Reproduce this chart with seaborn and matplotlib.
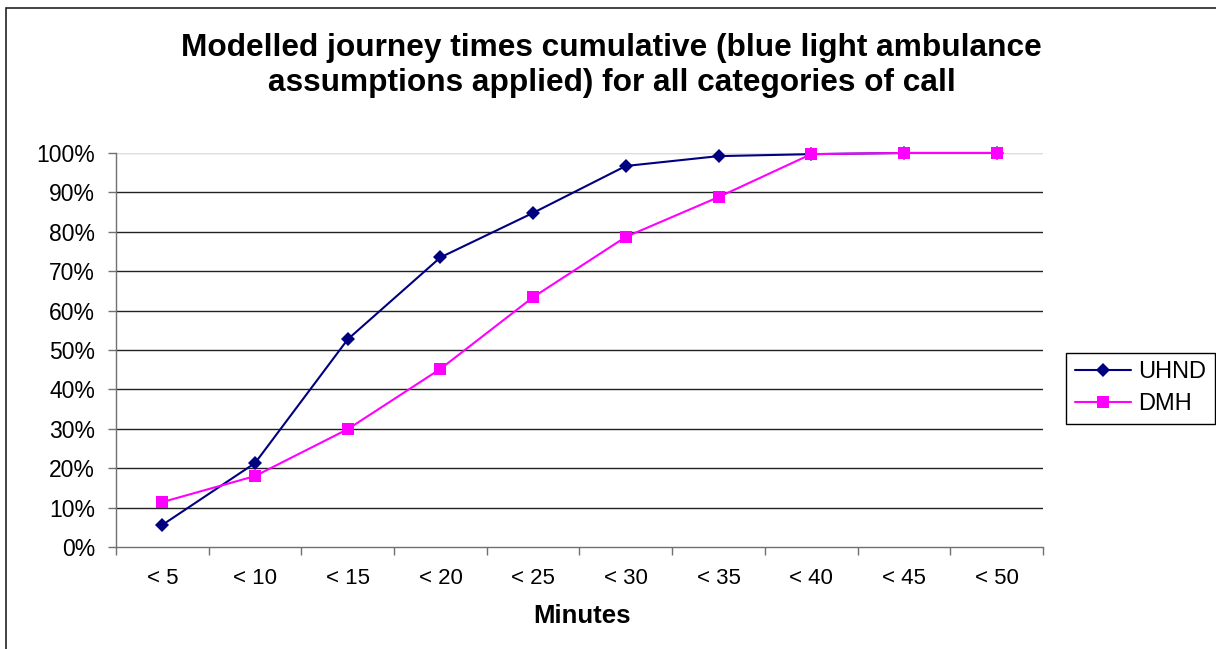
import matplotlib.pyplot as plt
import matplotlib.ticker as mtick
from matplotlib.patches import Rectangle
import seaborn as sns
import pandas as pd

# values (share of calls reached)
categories = ["< 5", "< 10", "< 15", "< 20", "< 25", "< 30", "< 35", "< 40", "< 45", "< 50"]
uhnd = [0.056, 0.213, 0.527, 0.735, 0.848, 0.967, 0.992, 0.997, 1.0, 1.0]
dmh = [0.114, 0.180, 0.299, 0.452, 0.634, 0.787, 0.888, 0.997, 1.0, 1.0]
series_names = ["UHND", "DMH"]

sns.set_theme(style="white")
plt.rcParams['font.family'] = ['Liberation Sans', 'DejaVu Sans']
plt.rcParams['text.color'] = 'black'

df = pd.DataFrame({
    "Minutes": categories * 2,
    "share": uhnd + dmh,
    "series": [series_names[0]] * len(uhnd) + [series_names[1]] * len(dmh),
})

fig = plt.figure(figsize=(12.16, 6.49), dpi=100)
ax = fig.add_axes([0.0954, 0.1572, 0.7623, 0.6071])

sns.lineplot(data=df, x="Minutes", y="share", hue="series", style="series",
             markers={"UHND": "D", "DMH": "s"}, dashes=False,
             palette={"UHND": "#000080", "DMH": "#FF00FF"},
             linewidth=1.5, markeredgewidth=0, sort=False, ax=ax)
for line, ms in zip(ax.lines, [7, 8.5]):
    line.set_markersize(ms)
    line.set_clip_on(False)
    line.set_zorder(3)

ax.set_xlim(-0.5, len(categories) - 0.5)
ax.set_ylim(0, 1)
ax.yaxis.set_major_locator(mtick.MultipleLocator(0.1))
ax.yaxis.set_major_formatter(mtick.PercentFormatter(1.0, decimals=0))
ax.set_xticks(range(len(categories)))
ax.set_xticklabels(categories)
ax.set_xticks([i - 0.5 for i in range(len(categories) + 1)], minor=True)
ax.set_xlabel("")
ax.set_ylabel("")

# horizontal gridlines, the 100% one drawn light as in the original
for yv in ax.get_yticks():
    if 0 < yv < 0.999:
        ax.axhline(yv, color="#222222", linewidth=1, zorder=1)
    elif yv >= 0.999:
        ax.axhline(1.0, color="#dddddd", linewidth=1, zorder=1)

for side in ["top", "right"]:
    ax.spines[side].set_visible(False)
for side in ["left", "bottom"]:
    ax.spines[side].set_color("#707070")
    ax.spines[side].set_linewidth(1)

ax.tick_params(axis="y", which="major", direction="out", length=6, width=1,
               color="#707070", left=True, labelsize=16.5, pad=9, labelcolor="black")
ax.tick_params(axis="x", which="major", length=0, labelsize=16, pad=15, labelcolor="black")
ax.tick_params(axis="x", which="minor", direction="out", length=6, width=1,
               color="#707070", bottom=True)

# legend on the right, outside the plot
leg = ax.get_legend()
handles = leg.legend_handles
labels = [t.get_text() for t in leg.get_texts()]
leg.remove()
fig.legend(handles, labels, loc="center left", bbox_to_anchor=(0.877, 0.402),
           bbox_transform=fig.transFigure, fontsize=17, frameon=True,
           fancybox=False, edgecolor="black", framealpha=1, handlelength=2.4,
           borderpad=0.35, labelspacing=0.45, handletextpad=0.3, borderaxespad=0)
for h, ms in zip(fig.legends[0].legend_handles, [7, 8.5]):
    h.set_markersize(ms)
fig.legends[0].get_frame().set_linewidth(1)

fig.text(0.503, 0.899,
         "Modelled journey times cumulative (blue light ambulance\nassumptions applied) for all categories of call",
         ha="center", va="center", fontsize=22.8, fontweight="bold", linespacing=1.22)
fig.text(0.4786, 0.051, "Minutes", ha="center", va="center", fontsize=18.5, fontweight="bold")

fig.patches.append(Rectangle((0.0053, -0.02), 1.1, 0.987 + 0.02, transform=fig.transFigure,
                             fill=False, edgecolor="#222222", linewidth=1.2, clip_on=False))

fig.savefig("out.png", dpi=100)
